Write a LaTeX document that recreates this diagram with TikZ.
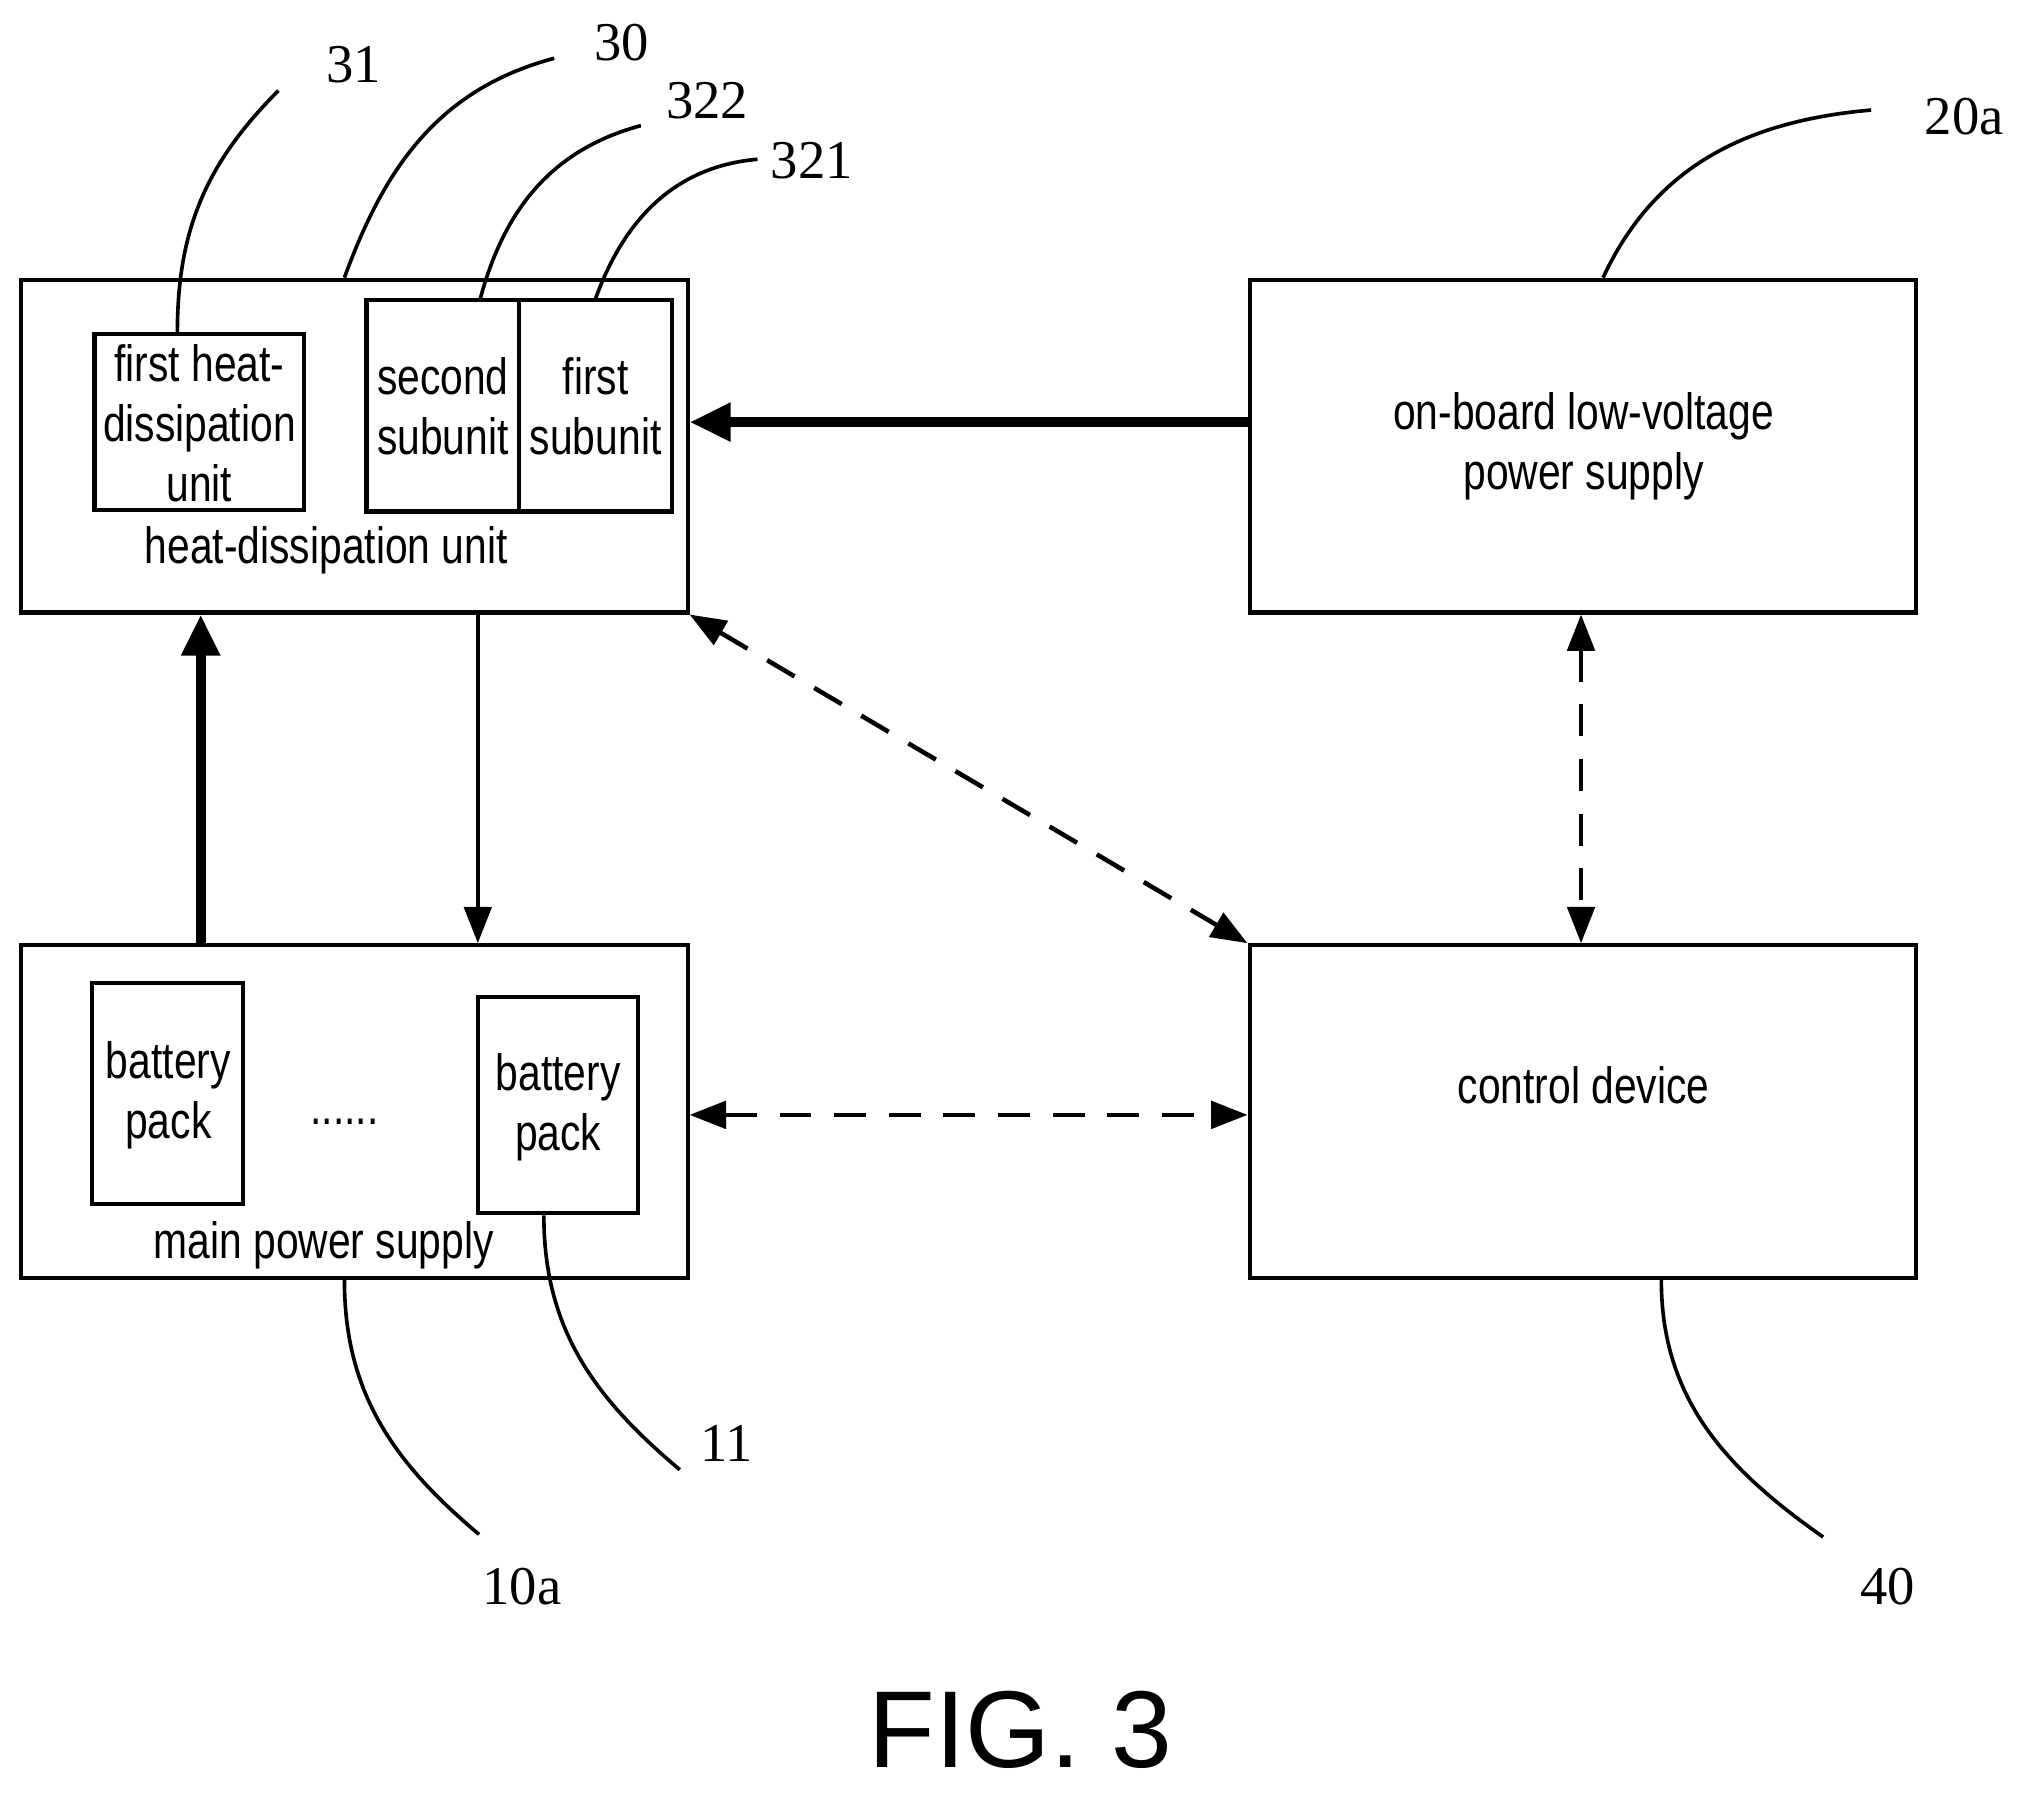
\documentclass[tikz,border=0pt]{standalone}
\usepackage{fontspec}
\setsansfont{Liberation Sans}[FakeStretch=0.8]
\setmainfont{Liberation Serif}
\newfontfamily\figfont{Liberation Sans}
\usetikzlibrary{arrows.meta}
\begin{document}
\begin{tikzpicture}[x=0.01cm,y=-0.01cm,
  box/.style={draw,line width=0.9pt,inner sep=0},
  lbl/.style={font=\sffamily\fontsize{11.2}{13.2}\selectfont,align=center,inner sep=0},
  num/.style={font=\fontsize{12}{14}\selectfont,inner sep=0},
  lead/.style={line width=0.8pt},
  thick arr/.style={line width=2.2pt,-{Triangle[length=9pt,width=8pt]}},
  thin arr/.style={line width=1pt,-{Triangle[length=8pt,width=6pt]}},
  dash arr/.style={line width=1pt,dash pattern=on 7pt off 5pt,{Triangle[length=8pt,width=6pt]}-{Triangle[length=8pt,width=6pt]}}]
\useasboundingbox (0,0) rectangle (1560,1385);
\node[box,minimum width=515*0.01cm,minimum height=257*0.01cm] (hd) at (273.5,344.5) {};
\node[box,minimum width=162*0.01cm,minimum height=136*0.01cm] (fh) at (154,326) {};
\node[lbl] (fht) at (154,327) {first heat-\\dissipation\\unit};
\node[box,minimum width=118*0.01cm,minimum height=163*0.01cm] (ss) at (342,313.5) {};
\node[lbl] at (342,314) {second\\subunit};
\node[box,minimum width=118*0.01cm,minimum height=163*0.01cm] (fs) at (460,313.5) {};
\node[lbl] at (460,314) {first\\subunit};
\node[lbl] (hdl) at (252,425) {heat-dissipation unit};
\node[box,minimum width=515*0.01cm,minimum height=257*0.01cm] (lv) at (1222.5,344.5) {};
\node[lbl] at (1223,345) {on-board low-voltage\\power supply};
\node[box,minimum width=515*0.01cm,minimum height=257*0.01cm] (mp) at (273.5,858.5) {};
\node[box,minimum width=117*0.01cm,minimum height=171*0.01cm] (bp1) at (129.5,844.5) {};
\node[lbl] at (130,846) {battery\\pack};
\node[box,minimum width=124*0.01cm,minimum height=167*0.01cm] (bp2) at (431,853.5) {};
\node[lbl] at (431,855) {battery\\pack};
\node[lbl] (dots) at (266,866) {......};
\node[lbl] (mpl) at (250,962) {main power supply};
\node[box,minimum width=515*0.01cm,minimum height=257*0.01cm] (cd) at (1222.5,858.5) {};
\node[lbl] at (1223,838) {control device};
\draw[thick arr] (lv.west|-0,326) -- (hd.east|-0,326);
\draw[thick arr] (mp.north-|155,0) -- (hd.south-|155,0);
\draw[thin arr] (hd.south-|369,0) -- (mp.north-|369,0);
\draw[dash arr] (hd.south east) -- (cd.north west);
\draw[dash arr] (lv.south-|1221,0) -- (cd.north-|1221,0);
\draw[dash arr] (mp.east|-0,861) -- (cd.west|-0,861);
\node[num] (n31) at (273,50) {31};
\node[num] (n30) at (480,33) {30};
\node[num] (n322) at (546,78) {322};
\node[num] (n321) at (627,124) {321};
\node[num] (n20a) at (1517,90) {20a};
\node[num] (n10a) at (403,1225) {10a};
\node[num] (n11) at (561,1115) {11};
\node[num] (n40) at (1458,1225) {40};
\draw[lead] (fh.north-|137,0) to[out=90,in=225] (215,70);
\draw[lead] (hd.north-|266,0) to[out=70,in=195] (428,45);
\draw[lead] (ss.north-|371,0) to[out=75,in=195] (495,97);
\draw[lead] (fs.north) to[out=70,in=185] (585,123);
\draw[lead] (lv.north-|1238,0) to[out=65,in=185] (1445,85);
\draw[lead] (mp.south-|266,0) to[out=-90,in=140] (370,1185);
\draw[lead] (bp2.south-|420,0) to[out=-90,in=140] (525,1135);
\draw[lead] (cd.south-|1283,0) to[out=-90,in=145] (1408,1187);
\node[font=\figfont\fontsize{24}{28}\selectfont] (fig) at (788,1336) {FIG. 3};
\end{tikzpicture}
\end{document}
